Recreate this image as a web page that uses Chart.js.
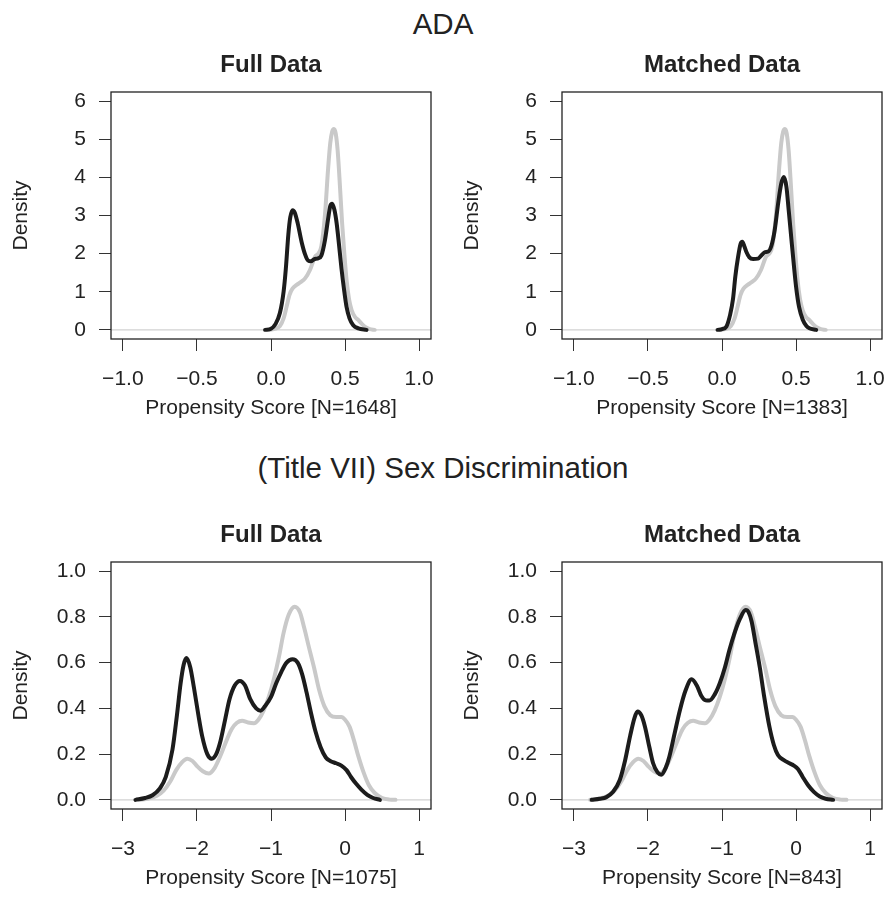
<!DOCTYPE html>
<html>
<head>
<meta charset="utf-8">
<script src="https://cdn.jsdelivr.net/npm/chart.js@4.4.0/dist/chart.umd.min.js"></script>
<style>
  html, body { margin: 0; padding: 0; background: #fff; overflow: hidden; }
  body { width: 886px; height: 897px; position: relative; font-family: "Liberation Sans", Arial, sans-serif; color: #222; }
  .main { position: absolute; left: 0; width: 886px; text-align: center; font-size: 29.5px; line-height: 29px; }
  .panel { position: absolute; }
</style>
</head>
<body>
<div class="main" style="top:9px">ADA</div>
<div class="main" style="top:453px">(Title VII) Sex Discrimination</div>
<div class="panel" style="left:0;top:0"><canvas id="adaFull" width="470" height="440"></canvas></div>
<div class="panel" style="left:451px;top:0"><canvas id="adaMatched" width="470" height="440"></canvas></div>
<div class="panel" style="left:0;top:470px"><canvas id="sexFull" width="470" height="440"></canvas></div>
<div class="panel" style="left:451px;top:470px"><canvas id="sexMatched" width="470" height="440"></canvas></div>
<script>
// --- axis ticks ---
const adaXTicks = [-1, -0.5, 0, 0.5, 1];
const adaYTicks = [0, 1, 2, 3, 4, 5, 6];
const sexXTicks = [-3, -2, -1, 0, 1];
const sexYTicks = [0, 0.2, 0.4, 0.6, 0.8, 1.0];

// --- density curves, [propensity score, density] ---
// black = control group, gray = treated group (same in full and matched)
const adaFullBlack = [[-0.04,0],[0.0,0.03],[0.03,0.15],[0.06,0.44],[0.085,1.0],[0.1,1.6],[0.117,2.5],[0.13,2.95],[0.146,3.14],[0.16,3.08],[0.18,2.8],[0.207,2.3],[0.23,1.98],[0.25,1.82],[0.27,1.8],[0.29,1.85],[0.32,1.88],[0.34,1.95],[0.364,2.35],[0.385,2.9],[0.4,3.25],[0.413,3.31],[0.428,3.15],[0.443,2.8],[0.46,2.2],[0.476,1.6],[0.495,1.0],[0.51,0.6],[0.53,0.3],[0.555,0.12],[0.59,0.04],[0.645,0]];
const adaGray = [[-0.01,0],[0.03,0.03],[0.06,0.1],[0.085,0.3],[0.106,0.62],[0.125,0.92],[0.145,1.08],[0.173,1.18],[0.2,1.25],[0.23,1.35],[0.263,1.57],[0.297,1.92],[0.32,2.0],[0.34,2.2],[0.364,3.0],[0.385,4.2],[0.4,4.9],[0.413,5.2],[0.425,5.27],[0.437,5.15],[0.45,4.7],[0.465,3.8],[0.48,2.8],[0.495,2.0],[0.51,1.31],[0.527,0.8],[0.544,0.52],[0.565,0.35],[0.589,0.26],[0.61,0.17],[0.635,0.08],[0.667,0.02],[0.70,0]];
const adaMatchedBlack = [[-0.03,0],[0.0,0.02],[0.03,0.09],[0.055,0.4],[0.074,0.8],[0.09,1.4],[0.108,1.9],[0.125,2.25],[0.137,2.31],[0.15,2.2],[0.164,2.05],[0.185,1.9],[0.21,1.86],[0.243,1.87],[0.27,1.97],[0.29,2.04],[0.31,2.05],[0.333,2.2],[0.355,2.6],[0.38,3.35],[0.4,3.84],[0.418,4.01],[0.435,3.75],[0.45,3.15],[0.467,2.44],[0.485,1.7],[0.5,1.13],[0.52,0.6],[0.546,0.26],[0.57,0.1],[0.59,0.04],[0.636,0]];

const sexFullBlack = [[-2.83,0],[-2.7,0.008],[-2.6,0.02],[-2.5,0.05],[-2.42,0.1],[-2.33,0.22],[-2.27,0.37],[-2.22,0.51],[-2.18,0.59],[-2.14,0.62],[-2.09,0.58],[-2.04,0.49],[-1.98,0.37],[-1.93,0.28],[-1.86,0.2],[-1.80,0.18],[-1.74,0.2],[-1.68,0.26],[-1.62,0.35],[-1.56,0.44],[-1.49,0.5],[-1.42,0.52],[-1.35,0.5],[-1.28,0.44],[-1.2,0.4],[-1.14,0.39],[-1.08,0.41],[-1.0,0.45],[-0.93,0.51],[-0.86,0.56],[-0.79,0.6],[-0.71,0.615],[-0.64,0.6],[-0.58,0.55],[-0.52,0.47],[-0.46,0.38],[-0.4,0.3],[-0.33,0.23],[-0.26,0.185],[-0.2,0.17],[-0.12,0.16],[-0.05,0.15],[0.02,0.13],[0.08,0.1],[0.15,0.07],[0.22,0.045],[0.3,0.022],[0.38,0.008],[0.47,0]];
const sexGray = [[-2.78,0],[-2.65,0.006],[-2.54,0.018],[-2.45,0.04],[-2.36,0.08],[-2.28,0.13],[-2.2,0.165],[-2.13,0.18],[-2.06,0.17],[-2.0,0.148],[-1.92,0.125],[-1.84,0.115],[-1.76,0.14],[-1.68,0.195],[-1.6,0.26],[-1.53,0.31],[-1.46,0.337],[-1.39,0.346],[-1.31,0.338],[-1.23,0.335],[-1.17,0.35],[-1.1,0.39],[-1.03,0.45],[-0.96,0.53],[-0.89,0.63],[-0.83,0.73],[-0.76,0.81],[-0.68,0.844],[-0.61,0.82],[-0.55,0.75],[-0.49,0.67],[-0.42,0.58],[-0.35,0.48],[-0.28,0.41],[-0.2,0.37],[-0.12,0.362],[-0.05,0.362],[0.0,0.35],[0.06,0.32],[0.12,0.26],[0.18,0.19],[0.25,0.12],[0.32,0.065],[0.4,0.03],[0.5,0.008],[0.6,0.001],[0.68,0]];
const sexMatchedBlack = [[-2.76,0],[-2.65,0.005],[-2.56,0.012],[-2.47,0.035],[-2.38,0.087],[-2.31,0.17],[-2.24,0.28],[-2.18,0.36],[-2.14,0.386],[-2.09,0.37],[-2.04,0.32],[-1.98,0.23],[-1.93,0.16],[-1.87,0.12],[-1.82,0.11],[-1.76,0.14],[-1.71,0.19],[-1.64,0.29],[-1.57,0.39],[-1.49,0.48],[-1.41,0.527],[-1.34,0.5],[-1.28,0.455],[-1.22,0.435],[-1.17,0.434],[-1.1,0.46],[-1.03,0.51],[-0.96,0.58],[-0.9,0.655],[-0.83,0.73],[-0.76,0.79],[-0.68,0.83],[-0.64,0.82],[-0.6,0.78],[-0.55,0.69],[-0.49,0.58],[-0.43,0.45],[-0.36,0.32],[-0.3,0.24],[-0.245,0.196],[-0.17,0.175],[-0.09,0.16],[-0.03,0.15],[0.025,0.135],[0.09,0.1],[0.16,0.065],[0.24,0.035],[0.32,0.015],[0.4,0.005],[0.5,0]];

const BLACK = '#1c1c1c';
const GRAY = '#c9c9c9';
const FONT = '"Liberation Sans", Arial, sans-serif';

Chart.defaults.font.family = FONT;
Chart.defaults.color = '#222';

// R-style box round the plot region
const boxPlugin = {
  id: 'box',
  afterDraw(chart) {
    const a = chart.chartArea, ctx = chart.ctx;
    ctx.save();
    ctx.strokeStyle = '#222';
    ctx.lineWidth = 1.3;
    ctx.strokeRect(a.left, a.top, a.right - a.left, a.bottom - a.top);
    ctx.restore();
  }
};

// panel title centred over the plot region (not the whole canvas)
const panelTitlePlugin = {
  id: 'panelTitle',
  afterDraw(chart, args, opts) {
    const a = chart.chartArea, ctx = chart.ctx;
    ctx.save();
    ctx.font = 'bold 24px ' + FONT;
    ctx.fillStyle = '#222';
    ctx.textAlign = 'center';
    ctx.textBaseline = 'middle';
    ctx.fillText(opts.text, (a.left + a.right) / 2, a.top - 26.7);
    ctx.restore();
  }
};

function fmt(v, digits) {
  return Number(v).toFixed(digits).replace('-', '\u2212');
}

function toPts(arr) {
  return arr.map(p => ({x: p[0], y: p[1]}));
}

function makePanel(id, title, xLabel, black, gray, xMin, xMax, xTicks, xDigits, yMin, yMax, yTicks, yDigits) {
  const ctx = document.getElementById(id).getContext('2d');
  return new Chart(ctx, {
    type: 'line',
    data: {
      datasets: [
        { data: toPts(black), borderColor: BLACK, borderWidth: 4 },
        { data: toPts(gray), borderColor: GRAY, borderWidth: 4 },
        { data: [{x: xMin, y: 0}, {x: xMax, y: 0}], borderColor: '#d2d2d2', borderWidth: 1.2 }
      ]
    },
    options: {
      responsive: false,
      animation: false,
      layout: { padding: { top: 92, right: 39, bottom: 11, left: 0 } },
      elements: {
        point: { radius: 0 },
        line: { cubicInterpolationMode: 'monotone', borderCapStyle: 'round', borderJoinStyle: 'round', fill: false }
      },
      plugins: {
        legend: { display: false },
        tooltip: { enabled: false },
        panelTitle: { text: title }
      },
      scales: {
        x: {
          type: 'linear', min: xMin, max: xMax,
          afterBuildTicks: a => { a.ticks = xTicks.map(v => ({value: v})); },
          afterFit: s => { s.height = 90; },
          grid: { drawOnChartArea: false, drawTicks: true, tickLength: 12, tickColor: '#333', tickWidth: 1 },
          border: { display: false },
          ticks: { padding: 15.4, font: { size: 21 }, color: '#222', maxRotation: 0, autoSkip: false,
                   callback: v => fmt(v, xDigits) },
          title: { display: true, text: xLabel, font: { size: 21 }, color: '#222', padding: { top: 0, bottom: 8.4 } }
        },
        y: {
          type: 'linear', min: yMin, max: yMax,
          afterBuildTicks: a => { a.ticks = yTicks.map(v => ({value: v})); },
          afterFit: s => { s.width = 111; },
          grid: { drawOnChartArea: false, drawTicks: true, tickLength: 12, tickColor: '#333', tickWidth: 1 },
          border: { display: false },
          ticks: { padding: 13, font: { size: 21 }, color: '#222', autoSkip: false,
                   callback: v => fmt(v, yDigits) },
          title: { display: true, text: 'Density', font: { size: 21 }, color: '#222', padding: { top: 9.1, bottom: 0 } }
        }
      }
    },
    plugins: [boxPlugin, panelTitlePlugin]
  });
}

makePanel('adaFull', 'Full Data', 'Propensity Score [N=1648]', adaFullBlack, adaGray,
  -1.08, 1.08, adaXTicks, 1, -0.24, 6.24, adaYTicks, 0);
makePanel('adaMatched', 'Matched Data', 'Propensity Score [N=1383]', adaMatchedBlack, adaGray,
  -1.08, 1.08, adaXTicks, 1, -0.24, 6.24, adaYTicks, 0);
makePanel('sexFull', 'Full Data', 'Propensity Score [N=1075]', sexFullBlack, sexGray,
  -3.16, 1.16, sexXTicks, 0, -0.04, 1.04, sexYTicks, 1);
makePanel('sexMatched', 'Matched Data', 'Propensity Score [N=843]', sexMatchedBlack, sexGray,
  -3.16, 1.16, sexXTicks, 0, -0.04, 1.04, sexYTicks, 1);
</script>
</body>
</html>
